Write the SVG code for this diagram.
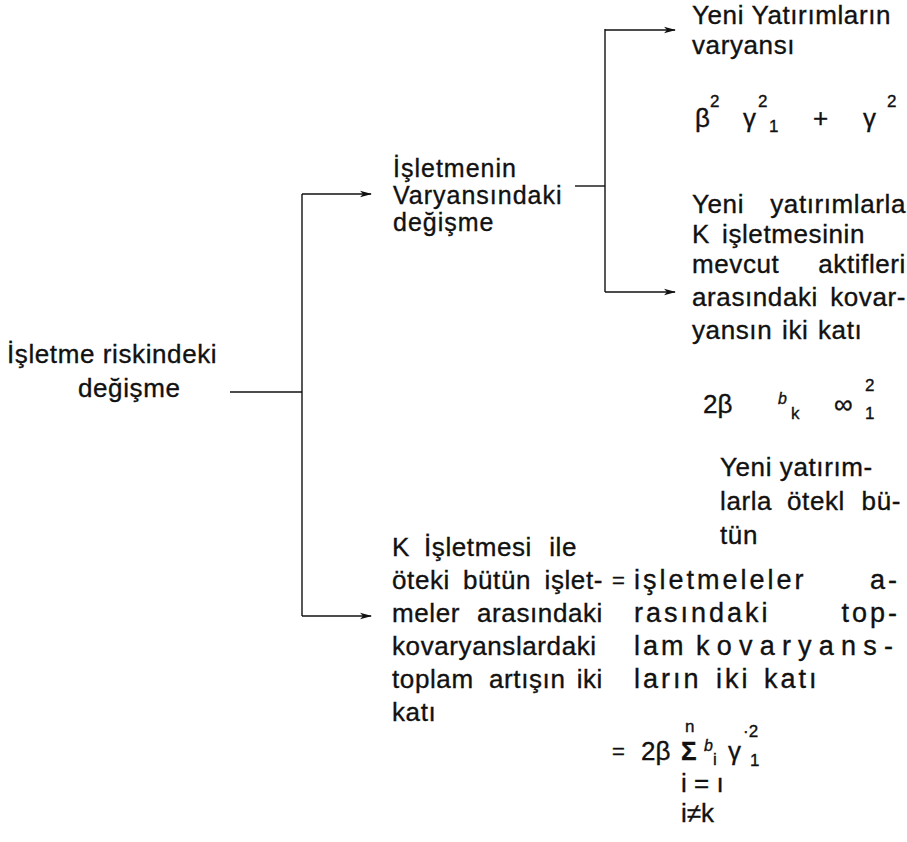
<svg xmlns="http://www.w3.org/2000/svg" width="907" height="842" viewBox="0 0 907 842">
<defs>
<marker id="ah" markerWidth="12" markerHeight="8" refX="11" refY="4" orient="auto" markerUnits="userSpaceOnUse">
<path d="M0,0.8 L12,4 L0,7.2 L3,4 Z" fill="#111"/>
</marker>
</defs>
<style>
text{font-family:"Liberation Sans",Arial,sans-serif;font-size:26px;letter-spacing:0.6px;fill:#111;stroke:#111;stroke-width:0.35px}
.m{font-size:25px;letter-spacing:1px}
.w{font-size:27px;letter-spacing:3px}
.e{text-anchor:end}
.f{font-size:26px;letter-spacing:0}
.q{font-size:22px;letter-spacing:0}
.s{font-size:17px;letter-spacing:0}
.it{font-style:italic;font-size:16px;letter-spacing:0}
.b{font-weight:bold}
.ln{stroke:#111;stroke-width:1.4;fill:none}
.ar{marker-end:url(#ah)}
</style>
<rect width="907" height="842" fill="#fff"/>
<g id="connectors">
<path class="ln" d="M230,392 H302"/>
<path class="ln" d="M302,194 V616"/>
<path class="ln ar" d="M302,194 H371"/>
<path class="ln ar" d="M302,616 H371"/>
<path class="ln" d="M575,186 H605"/>
<path class="ln" d="M605,29 V292"/>
<path class="ln ar" d="M605,30 H675"/>
<path class="ln ar" d="M605,292 H675"/>
</g>
<g id="n-root">
<text x="7" y="363">İşletme riskindeki</text>
<text x="78" y="397">değişme</text>
</g>
<g id="n-variance">
<text class="m" x="393" y="177">İşletmenin</text>
<text class="m" x="393" y="204">Varyansındaki</text>
<text class="m" x="393" y="231">değişme</text>
</g>
<g id="n-covariance">
<text x="392" y="556">K</text><text x="424" y="556">İşletmesi</text><text class="e" x="577" y="556">ile</text>
<text x="392" y="589">öteki</text><text x="463" y="589">bütün</text><text class="e" x="603" y="589">işlet-</text>
<text x="392" y="622">meler</text><text class="e" x="603" y="622">arasındaki</text>
<text x="392" y="655">kovaryanslardaki</text>
<text x="392" y="688">toplam</text><text x="489" y="688">artışın</text><text class="e" x="603" y="688">iki</text>
<text x="392" y="721">katı</text>
</g>
<g id="n-newvar">
<text x="692" y="24">Yeni Yatırımların</text>
<text x="692" y="54">varyansı</text>
<text x="695" y="127" class="f">β</text>
<text x="710" y="107" class="s">2</text>
<text x="743" y="127" class="f">γ</text>
<text x="758" y="107" class="s">2</text>
<text x="769" y="132" class="s">1</text>
<text x="813" y="127" class="f">+</text>
<text x="863" y="127" class="f">γ</text>
<text x="887" y="107" class="s">2</text>
</g>
<g id="n-kcov">
<text x="692" y="213">Yeni</text><text class="e" x="906" y="213">yatırımlarla</text>
<text x="692" y="243">K</text><text x="722" y="243">işletmesinin</text>
<text x="692" y="273">mevcut</text><text class="e" x="906" y="273">aktifleri</text>
<text x="692" y="306">arasındaki</text><text class="e" x="906" y="306">kovar-</text>
<text x="692" y="339">yansın</text><text x="782" y="339">iki</text><text x="818" y="339">katı</text>
<text x="703" y="413" class="f">2β</text>
<text x="778" y="404" class="it">b</text>
<text x="791" y="419" class="s">k</text>
<text x="834" y="413" class="f">∞</text>
<text x="865" y="391" class="s">2</text>
<text x="865" y="419" class="s">1</text>
</g>
<g id="n-othercov">
<text x="720" y="476">Yeni yatırım-</text>
<text x="720" y="510">larla</text><text x="787" y="510">ötekl</text><text class="e" x="901" y="510">bü-</text>
<text x="720" y="544">tün</text>
<text x="612" y="588" class="q">=</text>
<text x="634" y="589" class="w">işletmeleler</text><text x="870" y="589" class="w">a-</text>
<text x="634" y="622" class="w">rasındaki</text><text class="w e" x="900" y="622">top-</text>
<text x="634" y="655" class="w">lam</text><text x="696" y="655" class="w" textLength="200" lengthAdjust="spacing">kovaryans-</text>
<text x="634" y="688" class="w">ların</text><text x="716" y="688" class="w">iki</text><text x="764" y="688" class="w">katı</text>
<text x="612" y="759" class="q">=</text>
<text x="641" y="760" class="f">2β</text>
<text x="681" y="760" class="f b">Σ</text>
<text x="685" y="732" class="s">n</text>
<text x="704" y="751" class="it">b</text>
<text x="713" y="765" class="s">i</text>
<text x="728" y="760" class="f">γ</text>
<text x="743" y="737" class="s">·2</text>
<text x="750" y="766" class="s">1</text>
<text x="681" y="792" class="f">i = ı</text>
<text x="681" y="822" class="f">i≠k</text>
</g>
</svg>
